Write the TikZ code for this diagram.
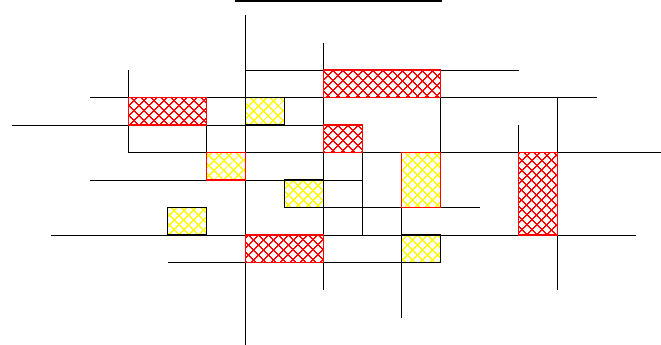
\documentclass[tikz,border=0pt]{standalone}
\usepackage{tikz}
\usetikzlibrary{patterns.meta}
\definecolor{hatchred}{HTML}{FF0000}
\definecolor{hatchyellow}{HTML}{FFFF00}

\begin{document}
\begin{tikzpicture}[
  x=0.78cm, y=-0.55cm,
  grid/.style={draw=black, line width=0.55pt},
  toprule/.style={draw=black, line width=1.5pt},
  xhatch/.style 2 args={fill=white,
    postaction={pattern={Lines[angle=45,distance=4pt,line width=0.8pt]}, pattern color=#1},
    postaction={pattern={Lines[angle=-45,distance=4pt,line width=0.8pt]}, pattern color=#1},
    postaction={draw=#2, line width=0.7pt}},
  redbox/.style={xhatch={hatchred}{hatchred}},
  yelbox/.style={xhatch={hatchyellow}{hatchred}},
  yelboxk/.style={xhatch={hatchyellow}{black}},
]
\useasboundingbox (-0.2949,-0.5455) rectangle (16.654,11.964);

% --- Rule along the top edge ---
\draw[toprule] (5.731,-0.51) -- (11.026,-0.51);

% --- Horizontal lines ---
\draw[grid] (6,2) -- (13,2);
\draw[grid] (2,3) -- (15,3);
\draw[grid] (0,4) -- (8,4);
\draw[grid] (3,5) -- (16.654,5);
\draw[grid] (2,6) -- (9,6);
\draw[grid] (7,7) -- (12,7);
\draw[grid] (1,8) -- (16,8);
\draw[grid] (4,9) -- (11,9);

% --- Vertical lines ---
\draw[grid] (3,2) -- (3,5);
\draw[grid] (5,4) -- (5,5);
\draw[grid] (6,0) -- (6,12);
\draw[grid] (8,1) -- (8,10);
\draw[grid] (9,4) -- (9,8);
\draw[grid] (10,7) -- (10,11);
\draw[grid] (11,3) -- (11,5);
\draw[grid] (13,4) -- (13,5);
\draw[grid] (14,3) -- (14,10);

% --- Red hatched blocks ---
\path[redbox] (3,3) rectangle (5,4);
\path[redbox] (8,2) rectangle (11,3);
\path[redbox] (8,4) rectangle (9,5);
\path[redbox] (13,5) rectangle (14,8);
\path[redbox] (6,8) rectangle (8,9);

% --- Yellow hatched blocks ---
\path[yelbox]  (5,5) rectangle (6,6);
\path[yelbox]  (10,5) rectangle (11,7);
\path[yelboxk] (6,3) rectangle (7,4);
\path[yelboxk] (7,6) rectangle (8,7);
\path[yelboxk] (4,7) rectangle (5,8);
\path[yelboxk] (10,8) rectangle (11,9);

\end{tikzpicture}
\end{document}
